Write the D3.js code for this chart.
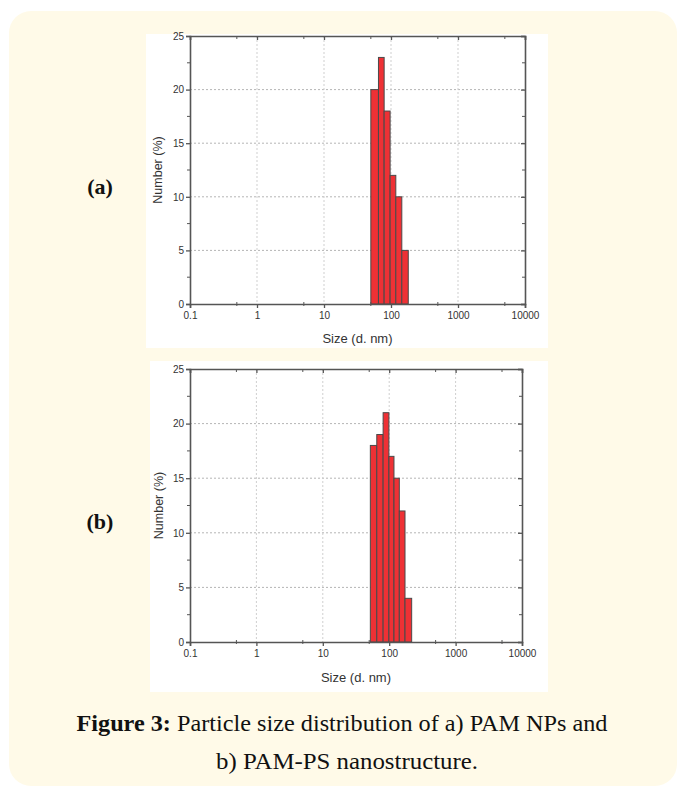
<!DOCTYPE html>
<html>
<head>
<meta charset="utf-8">
<script src="https://cdn.jsdelivr.net/npm/d3@7"></script>
<style>
  body { margin: 0; background: #fff; }
  svg { display: block; }
</style>
</head>
<body>
<div id="chart"></div>
<script>
// tick labels
var sizeTicks = [0.1, 1, 10, 100, 1000, 10000];
var minorSizeTicks = [0.5, 5, 50, 500, 5000];
var numberTicks = [0, 5, 10, 15, 20, 25];
var minorNumberTicks = [2.5, 7.5, 12.5, 17.5, 22.5];

// (a) PAM NPs : bin edges (d. nm) and number %
var edgesA = [50, 65, 79, 97, 118, 145, 181];
var numberA = [20, 23, 18, 12, 10, 5];

// (b) PAM-PS nanostructure
var edgesB = [52, 65, 81, 99, 118, 142, 173, 218];
var numberB = [18, 19, 21, 17, 15, 12, 4];

var W = 685, H = 796;

var svg = d3.select("#chart").append("svg")
    .attr("width", W)
    .attr("height", H);

// cream panel behind everything
svg.append("rect")
    .attr("x", 9).attr("y", 11)
    .attr("width", 668).attr("height", 775)
    .attr("rx", 22).attr("ry", 22)
    .attr("fill", "#fffae8");

function drawPanel(opt) {
    var g = svg.append("g");

    // white image box
    g.append("rect")
        .attr("x", opt.box[0]).attr("y", opt.box[1])
        .attr("width", opt.box[2]).attr("height", opt.box[3])
        .attr("fill", "#fff");

    var x = d3.scaleLog().domain([0.1, 10000]).range([opt.left, opt.right]);
    var y = d3.scaleLinear().domain([0, 25]).range([opt.bottom, opt.top]);

    // dotted grid
    g.append("g").selectAll("line")
        .data(numberTicks.slice(1, -1))
        .enter().append("line")
        .attr("x1", opt.left).attr("x2", opt.right)
        .attr("y1", function(d) { return y(d); })
        .attr("y2", function(d) { return y(d); })
        .attr("stroke", "#b5b5b5")
        .attr("stroke-width", 1)
        .attr("stroke-dasharray", "2,2");
    g.append("g").selectAll("line")
        .data(sizeTicks.slice(1, -1))
        .enter().append("line")
        .attr("y1", opt.top).attr("y2", opt.bottom)
        .attr("x1", function(d) { return x(d); })
        .attr("x2", function(d) { return x(d); })
        .attr("stroke", "#cfcfcf")
        .attr("stroke-width", 1)
        .attr("stroke-dasharray", "2,2");

    // bars
    var bins = opt.values.map(function(v, i) {
        return { x0: opt.edges[i], x1: opt.edges[i + 1], v: v };
    });
    g.append("g").selectAll("rect")
        .data(bins)
        .enter().append("rect")
        .attr("x", function(d) { return x(d.x0); })
        .attr("width", function(d) { return x(d.x1) - x(d.x0); })
        .attr("y", function(d) { return y(d.v); })
        .attr("height", function(d) { return y(0) - y(d.v); })
        .attr("fill", "#ee3135")
        .attr("stroke", "#4a4a4a")
        .attr("stroke-width", 1);

    var axisCol = "#555";

    // axes (left / bottom outward, top / right inward)
    var bottom = g.append("g")
        .attr("transform", "translate(0," + opt.bottom + ")")
        .call(d3.axisBottom(x).tickValues(sizeTicks)
            .tickFormat(function(d) { return d < 1 ? "0.1" : d3.format("d")(d); })
            .tickSize(4).tickPadding(4));
    bottom.selectAll(".minor")
        .data(minorSizeTicks).enter().append("line")
        .attr("class", "minor")
        .attr("x1", function(d) { return x(d); })
        .attr("x2", function(d) { return x(d); })
        .attr("y1", -2).attr("y2", 2)
        .attr("stroke", axisCol);

    var left = g.append("g")
        .attr("transform", "translate(" + opt.left + ",0)")
        .call(d3.axisLeft(y).tickValues(numberTicks).tickSize(4).tickPadding(2));
    left.selectAll(".minor")
        .data(minorNumberTicks).enter().append("line")
        .attr("class", "minor")
        .attr("y1", function(d) { return y(d); })
        .attr("y2", function(d) { return y(d); })
        .attr("x1", -3).attr("x2", 0)
        .attr("stroke", axisCol);

    var top = g.append("g")
        .attr("transform", "translate(0," + opt.top + ")")
        .call(d3.axisTop(x).tickValues(sizeTicks).tickSize(-4).tickFormat(""));
    top.selectAll(".minor")
        .data(minorSizeTicks).enter().append("line")
        .attr("class", "minor")
        .attr("x1", function(d) { return x(d); })
        .attr("x2", function(d) { return x(d); })
        .attr("y1", 0).attr("y2", 3)
        .attr("stroke", axisCol);

    var right = g.append("g")
        .attr("transform", "translate(" + opt.right + ",0)")
        .call(d3.axisRight(y).tickValues(numberTicks).tickSize(-4).tickFormat(""));
    right.selectAll(".minor")
        .data(minorNumberTicks).enter().append("line")
        .attr("class", "minor")
        .attr("y1", function(d) { return y(d); })
        .attr("y2", function(d) { return y(d); })
        .attr("x1", -3).attr("x2", 0)
        .attr("stroke", axisCol);

    [bottom, left, top, right].forEach(function(a) {
        a.select(".domain").attr("stroke", axisCol).attr("stroke-width", 1.6);
        a.selectAll(".tick line").attr("stroke", axisCol).attr("stroke-width", 1.3);
        a.selectAll("text")
            .attr("fill", "#333")
            .style("font-family", "'Liberation Sans', Arial, sans-serif")
            .style("font-size", "10px");
    });

    // axis titles
    g.append("text")
        .attr("x", (opt.left + opt.right) / 2)
        .attr("y", opt.xTitleY)
        .attr("text-anchor", "middle")
        .attr("fill", "#333")
        .style("font-family", "'Liberation Sans', Arial, sans-serif")
        .style("font-size", "13px")
        .text("Size (d. nm)");
    g.append("text")
        .attr("transform", "translate(" + opt.yTitleX + "," + (opt.top + opt.bottom) / 2 + ") rotate(-90)")
        .attr("text-anchor", "middle")
        .attr("fill", "#333")
        .style("font-family", "'Liberation Sans', Arial, sans-serif")
        .style("font-size", "12.5px")
        .text("Number (%)");

    // panel tag
    svg.append("text")
        .attr("x", 100).attr("y", opt.tagY)
        .attr("text-anchor", "middle")
        .attr("fill", "#111")
        .style("font-family", "'Liberation Serif', 'DejaVu Serif', serif")
        .style("font-weight", "bold")
        .style("font-size", "22px")
        .text(opt.tag);
}

drawPanel({
    box: [146, 34, 402, 314],
    left: 190, right: 525, top: 36, bottom: 304,
    xTitleY: 343, yTitleX: 162, tagY: 194,
    edges: edgesA, values: numberA, tag: "(a)"
});

drawPanel({
    box: [150, 361, 398, 331],
    left: 190, right: 522, top: 369, bottom: 642,
    xTitleY: 682, yTitleX: 163, tagY: 529,
    edges: edgesB, values: numberB, tag: "(b)"
});

// caption
var cap = svg.append("text")
    .attr("x", 342).attr("y", 731)
    .attr("text-anchor", "middle")
    .attr("fill", "#111")
    .style("font-family", "'Liberation Serif', 'DejaVu Serif', serif")
    .style("font-size", "24px")
    .attr("textLength", 531)
    .attr("lengthAdjust", "spacingAndGlyphs");
cap.append("tspan").style("font-weight", "bold").text("Figure 3:");
cap.append("tspan").text(" Particle size distribution of a) PAM NPs and");

svg.append("text")
    .attr("x", 347).attr("y", 769)
    .attr("text-anchor", "middle")
    .attr("fill", "#111")
    .style("font-family", "'Liberation Serif', 'DejaVu Serif', serif")
    .style("font-size", "24px")
    .attr("textLength", 262)
    .attr("lengthAdjust", "spacingAndGlyphs")
    .text("b) PAM-PS nanostructure.");
</script>
</body>
</html>
